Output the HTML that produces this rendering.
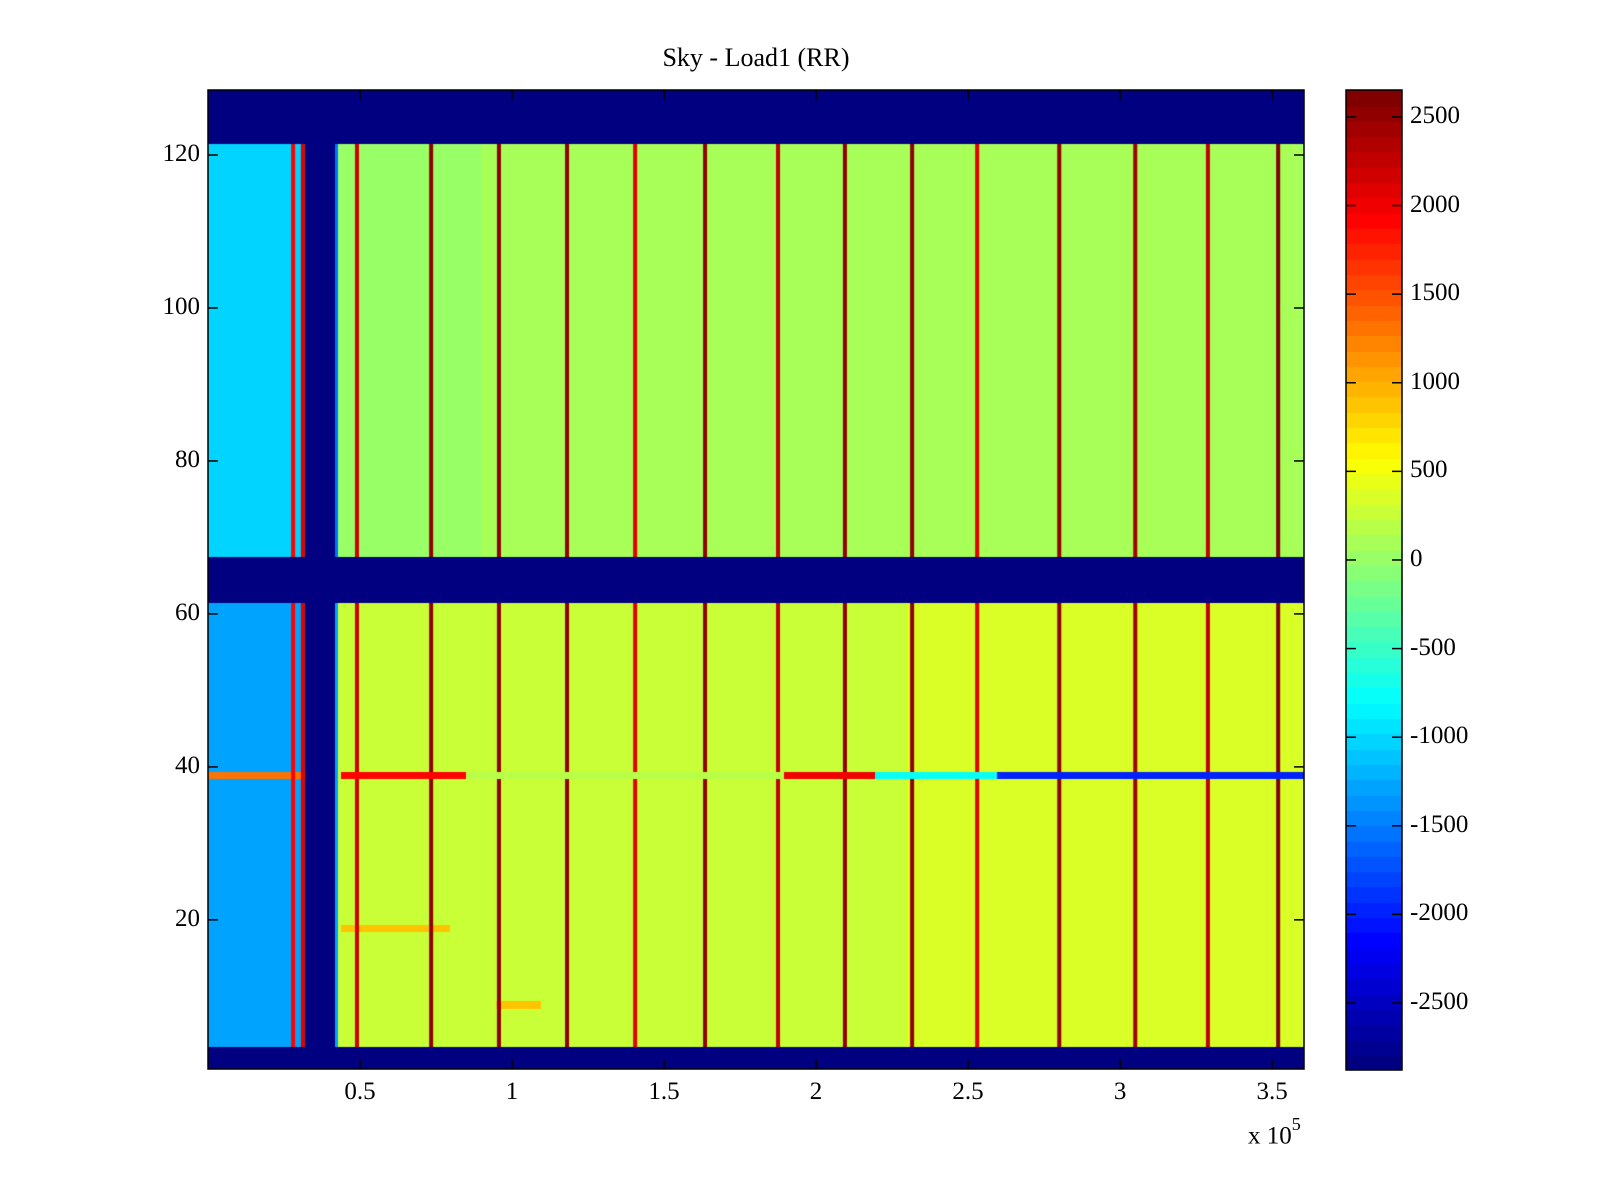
<!DOCTYPE html>
<html><head><meta charset="utf-8"><style>
body{margin:0;background:#fff;width:1600px;height:1200px;overflow:hidden;position:relative;font-family:"Liberation Serif",serif;}
.t{position:absolute;font-size:25px;color:#000;white-space:nowrap;}
</style></head><body>
<div class="t" style="left:756px;top:43px;transform:translateX(-50%);font-size:26px;">Sky - Load1 (RR)</div>
<canvas id="hm" width="1096" height="979" style="position:absolute;left:208px;top:90px;"></canvas>
<canvas id="cb" width="56" height="980" style="position:absolute;left:1346px;top:90px;"></canvas>
<svg id="ax" width="1600" height="1200" style="position:absolute;left:0;top:0;"></svg>
<div id="labels"></div>
<div class="t" style="left:1248px;top:1118px;">x 10<sup style="font-size:18px;position:relative;top:-4px">5</sup></div>
<script>
// data
const xMin=0, xMax=3.605, yMin=0.5, yMax=128.5, cMin=-2878, cMax=2652;
const xTicks=[0.5,1,1.5,2,2.5,3,3.5];
const xTickLabels=["0.5","1","1.5","2","2.5","3","3.5"];
const yTicks=[20,40,60,80,100,120];
const cTicks=[2500,2000,1500,1000,500,0,-500,-1000,-1500,-2000,-2500];
const blueRows=[[1,3],[62,67],[122,128]];
const gapX=[0.322,0.415];
const segStart=[0,0.415,0.43,0.9,1.9,2.3];
const segEnd=[0.322,0.43,0.9,1.9,2.3,3.7];
const segValue=[0,-1400,150,200,180,260];
const stripeX=[0.28,0.312,0.49,0.734,0.957,1.181,1.405,1.635,1.875,2.095,2.316,2.53,2.80,3.05,3.289,3.52];
const stripeVal=[1900,2100,2200,2500,2500,2500,2100,2500,2300,2500,2500,2100,2500,2400,2300,2600];
const rowBandStart=[4,68];
const rowBandEnd=[61,121];
const rowBandOffset=[100,-120];
const leftBandValue=[-1250,-1000];
const specialRows=[39,39,39,39,39,39,19,9];
const specStart=[0,0.44,0.85,1.9,2.2,2.6,0.44,0.95];
const specEnd=[0.322,0.85,1.9,2.2,2.6,3.7,0.8,1.1];
const specValue=[1300,1900,200,2000,-800,-2000,900,900];

function jet(v){let t=(v-cMin)/(cMax-cMin);t=Math.max(0,Math.min(1,t));t=Math.min(63,Math.floor(t*64))/63;
 const c=x=>Math.round(255*Math.max(0,Math.min(1,1.5-Math.abs(x))));
 return `rgb(${c(4*t-3)},${c(4*t-2)},${c(4*t-1)})`;}
const W=1096,H=979;
const sx=x=>(x-xMin)/(xMax-xMin)*W;
const sy=y=>(yMax-y)/(yMax-yMin)*H;
const ctx=document.getElementById('hm').getContext('2d');
const nb=361, bw=(xMax-xMin)/nb;
for(let r=1;r<=128;r++){
 const blue=blueRows.some(b=>r>=b[0]&&r<=b[1]);
 let off=0, left=-1100;rowBandStart.forEach((s,i)=>{if(r>=s&&r<=rowBandEnd[i]){off=rowBandOffset[i];left=leftBandValue[i];}});
 for(let k=0;k<nb;k++){
  const x=xMin+(k+0.5)*bw;
  let v=cMin;
  if(!blue && !(x>=gapX[0]&&x<=gapX[1])){
   v=0;segStart.forEach((s,i)=>{if(x>=s&&x<segEnd[i])v=segValue[i];});
   if(x<gapX[0])v=left;else v+=off;
   specialRows.forEach((sr,i)=>{if(sr===r&&x>=specStart[i]&&x<specEnd[i])v=specValue[i];});
  }
  ctx.fillStyle=jet(v);
  ctx.fillRect(Math.floor(sx(x-bw/2)),Math.floor(sy(r+0.5)),Math.ceil(sx(bw))+1,Math.ceil(H/128)+1);
 }
 if(!blue){stripeX.forEach((sxv,i)=>{
  if(r===39&&sxv>0.4)return;
  ctx.fillStyle=jet(stripeVal[i]);ctx.fillRect(sx(sxv)-2,Math.floor(sy(r+0.5)),4,Math.ceil(H/128)+1);});}
}
// colorbar
const cb=document.getElementById('cb').getContext('2d');
for(let i=0;i<64;i++){const v=cMin+(i+0.5)*(cMax-cMin)/64;cb.fillStyle=jet(v);
 const y0=980-(i+1)*980/64;cb.fillRect(0,Math.floor(y0),56,Math.ceil(980/64)+1);}
// axes
const svg=document.getElementById('ax');const NS='http://www.w3.org/2000/svg';
function ln(x1,y1,x2,y2,name){const l=document.createElementNS(NS,'line');l.setAttribute('x1',x1);l.setAttribute('y1',y1);l.setAttribute('x2',x2);l.setAttribute('y2',y2);l.setAttribute('stroke','#000');l.setAttribute('stroke-width','1.5');
 
 
 svg.appendChild(l);}
function rect(x,y,w,h,name){const r=document.createElementNS(NS,'rect');r.setAttribute('x',x);r.setAttribute('y',y);r.setAttribute('width',w);r.setAttribute('height',h);r.setAttribute('fill','none');r.setAttribute('stroke','#000');r.setAttribute('stroke-width','1.5');
 
 
 svg.appendChild(r);}
rect(208,90,1096,979,'plot-frame');rect(1346,90,56,980,'colorbar-frame');
const lab=document.getElementById('labels');
function txt(s,x,y,tr,name){const d=document.createElement('div');d.className='t';d.textContent=s;d.style.left=x+'px';d.style.top=y+'px';d.style.transform=tr;
 
 
 lab.appendChild(d);}
xTicks.forEach((t,i)=>{const x=208+sx(t);ln(x,1069,x,1059,'x-tick');ln(x,90,x,100,'x-tick-top');txt(xTickLabels[i],x,1078,'translateX(-50%)','x-tick-label');});
yTicks.forEach(t=>{const y=90+sy(t);ln(208,y,218,y,'y-tick');ln(1304,y,1294,y,'y-tick-right');txt(String(t),200,y-15,'translateX(-100%)','y-tick-label');});
cTicks.forEach(t=>{const y=90+(cMax-t)/(cMax-cMin)*980;ln(1346,y,1356,y,'colorbar-tick');ln(1402,y,1392,y,'colorbar-tick-right');txt(String(t),1410,y-15,'none','colorbar-tick-label');});
</script>
</body></html>
